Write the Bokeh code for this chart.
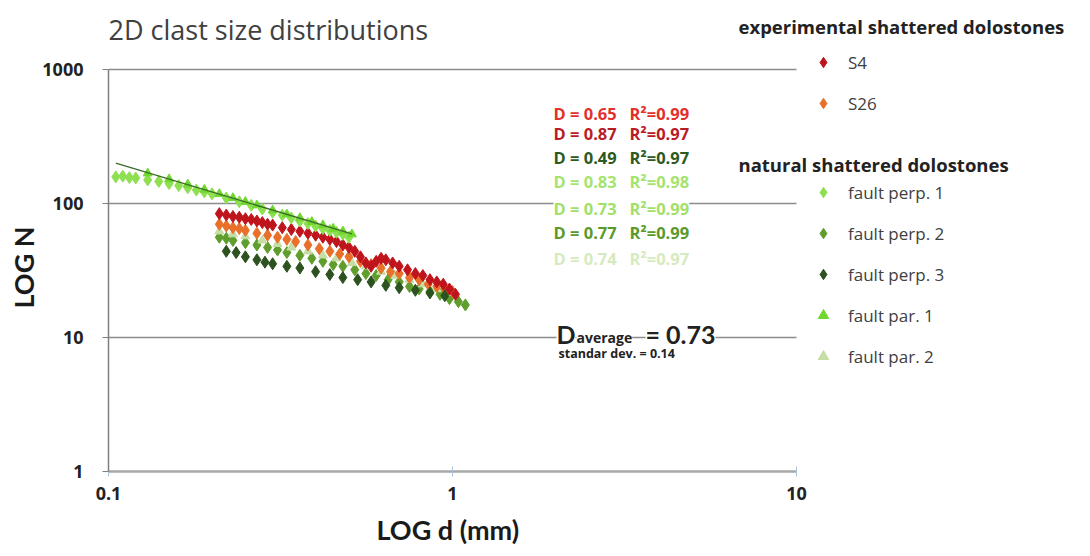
import numpy as np
from bokeh.plotting import figure
from bokeh.models import (Label, Legend, LegendItem, FixedTicker, PrintfTickFormatter, Range1d,
                          Title)
from bokeh.embed import file_html
from bokeh.resources import INLINE

FONT = "Open Sans"
FONT_AX = "Lato"

# ---------------- data ----------------
s4_x = [0.21, 0.22, 0.23, 0.24, 0.25, 0.26, 0.27, 0.28, 0.29, 0.30, 0.32, 0.34, 0.36, 0.38, 0.40,
        0.42, 0.44, 0.46, 0.48, 0.50, 0.52, 0.54, 0.56, 0.58, 0.60, 0.62, 0.64, 0.67, 0.70, 0.74,
        0.78, 0.82, 0.86, 0.90, 0.94, 0.98, 1.02]
s4_n = [84, 82, 80, 79, 77, 76, 74, 72, 70, 69, 66, 64, 62, 60, 58,
        56, 54, 52, 49, 47, 44, 40, 36, 34, 37, 39, 38, 36, 34, 32,
        30, 29, 27, 26, 25, 23, 21]

s26_x = [0.21, 0.22, 0.23, 0.24, 0.25, 0.27, 0.29, 0.31, 0.33, 0.35, 0.38, 0.41, 0.44, 0.47, 0.50,
         0.54, 0.58, 0.62, 0.66, 0.70, 0.75, 0.80, 0.85, 0.90, 0.95, 1.00]
s26_n = [70, 68, 66, 65, 63, 60, 58, 56, 54, 52, 49, 46, 44, 42, 40,
         37, 35, 33, 31, 30, 28, 27, 25, 24, 23, 22]

perp1_x = [0.105, 0.11, 0.115, 0.12, 0.13, 0.14, 0.15, 0.16, 0.17, 0.18, 0.19, 0.20, 0.22, 0.24,
           0.26, 0.28, 0.30, 0.32, 0.34, 0.36, 0.38, 0.40, 0.42, 0.44, 0.46, 0.48, 0.50]
perp1_n = [158, 160, 156, 155, 150, 146, 141, 136, 131, 126, 122, 118, 110, 103,
           97, 91, 86, 82, 78, 74, 71, 68, 65, 63, 61, 59, 56]

perp2_x = [0.21, 0.22, 0.23, 0.25, 0.27, 0.29, 0.31, 0.33, 0.36, 0.39, 0.42, 0.45, 0.48, 0.52,
           0.56, 0.60, 0.65, 0.70, 0.75, 0.80, 0.86, 0.92, 0.98, 1.04, 1.09]
perp2_n = [56, 55, 53, 51, 49, 47, 45, 43, 41, 39, 37, 35, 34, 32,
           30, 29, 27, 26, 24, 23, 22, 21, 19.5, 18.5, 17.5]

perp3_x = [0.22, 0.235, 0.25, 0.27, 0.285, 0.30, 0.33, 0.36, 0.40, 0.44, 0.48, 0.53, 0.58, 0.64,
           0.70, 0.78, 0.86, 0.95]
perp3_n = [44, 43, 40, 38, 36.5, 35.5, 34, 33, 31, 29.5, 28, 27, 26, 24.5,
           23.5, 22.5, 21.5, 20.5]

par1_x = [0.13, 0.15, 0.17, 0.19, 0.21, 0.23, 0.25, 0.27, 0.30, 0.33, 0.36, 0.39, 0.42, 0.45,
          0.48, 0.51]
par1_n = [168, 152, 139, 127, 118, 110, 103, 97, 89, 83, 78, 73, 69, 65, 62, 59]

par2_x = [0.21, 0.23, 0.25, 0.28, 0.31, 0.34, 0.38, 0.42, 0.46, 0.51, 0.56, 0.62, 0.68, 0.75,
          0.82, 0.90, 0.98]
par2_n = [62, 59, 57, 53, 50, 47, 44, 41, 39, 36, 34, 31, 29, 27, 25, 23, 21.5]

fit_D = ["0.65", "0.87", "0.49", "0.83", "0.73", "0.77", "0.74"]
fit_R2 = ["0.99", "0.97", "0.97", "0.98", "0.99", "0.99", "0.97"]
fit_colors = ["#e2302c", "#b81c26", "#2d5a1f", "#a4e46e", "#a2e06a", "#5b9a2a", "#d6eac0"]

d_average = "0.73"
std_dev = "0.14"

x_ticks = [0.1, 1, 10]
y_ticks = [1, 10, 100, 1000]

# ---------------- figure ----------------
# the frame starts at the axes' corner and reaches the right / top canvas edges,
# so that the legend and the text boxes can sit anywhere over it
FR_L, FR_B = 108, 471          # canvas position of the frame's left / bottom edges
FR_W, FR_H = 980, 471
PX_DEC_X, PX_DEC_Y = 344.0, 134.0   # pixels per decade
p = figure(x_axis_type="log", y_axis_type="log",
           x_range=Range1d(0.1, 0.1 * 10 ** (FR_W / PX_DEC_X)),
           y_range=Range1d(1, 10 ** (FR_H / PX_DEC_Y)),
           frame_width=FR_W, frame_height=FR_H,
           min_border_left=FR_L, min_border_right=0, min_border_top=0, min_border_bottom=83,
           output_backend="svg", toolbar_location=None, background_fill_color="white",
           border_fill_color="white")
p.outline_line_color = None
p.xgrid.grid_line_color = None
p.ygrid.grid_line_color = "#8c8c8c"
p.ygrid.grid_line_width = 1.6
p.ygrid.ticker = FixedTicker(ticks=y_ticks)
p.ygrid.cross_bounds = (x_ticks[0], x_ticks[-1])

p.xaxis.bounds = (x_ticks[0], x_ticks[-1])
p.yaxis.bounds = (y_ticks[0], y_ticks[-1])
p.xaxis.ticker = FixedTicker(ticks=x_ticks)
p.yaxis.ticker = FixedTicker(ticks=y_ticks)
p.xaxis.formatter = PrintfTickFormatter(format="%g")
p.yaxis.formatter = PrintfTickFormatter(format="%g")
p.xaxis.minor_tick_line_color = None
p.yaxis.minor_tick_line_color = None
p.xaxis.axis_line_color = "#a8a8a8"
p.xaxis.axis_line_width = 2.5
p.xaxis.major_tick_line_color = "#a9c3e0"
p.xaxis.major_tick_in = 5
p.xaxis.major_tick_out = 5
p.xaxis.major_label_standoff = 10
p.yaxis.axis_line_color = "#7f7f7f"
p.yaxis.axis_line_width = 1.5
p.yaxis.major_tick_line_color = "#7f7f7f"
p.yaxis.major_tick_in = 0
p.yaxis.major_tick_out = 6
p.yaxis.major_label_standoff = 19
for ax in (p.xaxis, p.yaxis):
    ax.major_label_text_font = FONT
    ax.major_label_text_font_style = "bold"
    ax.major_label_text_font_size = "18px"
    ax.major_label_text_color = "#222222"

# axis titles, placed along the drawn part of each axis
p.add_layout(Title(text="LOG N", align="left", offset=FR_B - 308, text_font=FONT_AX,
                   text_font_style="bold", text_font_size="27px", text_color="#1a1a1a",
                   standoff=0), "left")
p.add_layout(Title(text="LOG d (mm)", align="left", offset=376 - FR_L, text_font=FONT_AX,
                   text_font_style="bold", text_font_size="27px", text_color="#1a1a1a",
                   standoff=16), "below")

# ---------------- series ----------------
DIAM = dict(marker="diamond", size=12)
TRI = dict(marker="triangle", size=9)
r_perp2 = p.scatter(perp2_x, perp2_n, color="#5f9e2c", **DIAM)
r_par2 = p.scatter(par2_x, par2_n, color="#c4dea4", **TRI)
r_s26 = p.scatter(s26_x, s26_n, color="#e8702a", **DIAM)
r_perp3 = p.scatter(perp3_x, perp3_n, color="#2c5220", **DIAM)
r_s4 = p.scatter(s4_x, s4_n, color="#c0141c", **DIAM)
r_perp1 = p.scatter(perp1_x, perp1_n, color="#8ee050", **DIAM)
r_par1 = p.scatter(par1_x, par1_n, color="#6ed82e", **TRI)

# power-law trend line of the upper series (fit in log-log space)
k, b = np.polyfit(np.log10(par1_x), np.log10(par1_n), 1)
xf = np.array([min(perp1_x), max(par1_x)])
p.line(xf, 10 ** (b + k * np.log10(xf)), line_color="#3d6b2a", line_width=1.3)

# ---------------- text ----------------
NB = "\u00a0"


def lab(text, px, py, size, color="#222222", style="normal", align="left",
        baseline="middle", bg=None, font=FONT):
    p.add_layout(Label(x=px - FR_L, y=FR_B - py, x_units="screen", y_units="screen",
                       text=text, text_font=font, text_font_size=size,
                       text_font_style=style, text_color=color, text_align=align,
                       text_baseline=baseline, background_fill_color=bg))


lab("2D clast size distributions", 108, 29, "27px", color="#404040")

rows_y = [113, 133, 157, 181, 208, 232, 258]
for d, r2, c, yy in zip(fit_D, fit_R2, fit_colors, rows_y):
    lab("D" + NB + "=" + NB + d + NB * 3 + "R\u00b2=" + r2, 553, yy, "16.5px",
        color=c, style="bold", bg="white")

lab("D", 556, 333, "25px", style="bold", baseline="alphabetic", bg="white", font=FONT_AX)
lab("average", 576, 337, "14px", style="bold", baseline="alphabetic", bg="white")
lab("= " + d_average, 645, 333, "25px", style="bold", baseline="alphabetic", bg="white",
    font=FONT_AX)
lab("standar dev. = " + std_dev, 558, 353, "12.5px", style="bold")

lab("experimental shattered dolostones", 738, 26, "18.5px", style="bold")
lab("natural shattered dolostones", 738, 164, "18.5px", style="bold", bg="white")

# ---------------- legends ----------------
GLYPH = 26
PITCH = 41


def make_legend(items, center_px):
    n = len(items)
    h = n * GLYPH + (n - 1) * (PITCH - GLYPH)
    top = center_px - GLYPH / 2
    leg = Legend(items=items, location=(823 - GLYPH / 2 - FR_L, FR_B - (top + h)),
                 padding=0, margin=0, spacing=PITCH - GLYPH, glyph_width=GLYPH,
                 glyph_height=GLYPH, label_height=GLYPH, label_standoff=12,
                 label_text_font=FONT, label_text_font_size="17px",
                 label_text_color="#404040", border_line_alpha=0, background_fill_alpha=0)
    p.add_layout(leg)


make_legend([LegendItem(label="S4", renderers=[r_s4]),
             LegendItem(label="S26", renderers=[r_s26])], 62)
make_legend([LegendItem(label="fault perp. 1", renderers=[r_perp1]),
             LegendItem(label="fault perp. 2", renderers=[r_perp2]),
             LegendItem(label="fault perp. 3", renderers=[r_perp3]),
             LegendItem(label="fault par. 1", renderers=[r_par1]),
             LegendItem(label="fault par. 2", renderers=[r_par2])], 192)

open("out.html", "w").write(file_html(p, INLINE))
